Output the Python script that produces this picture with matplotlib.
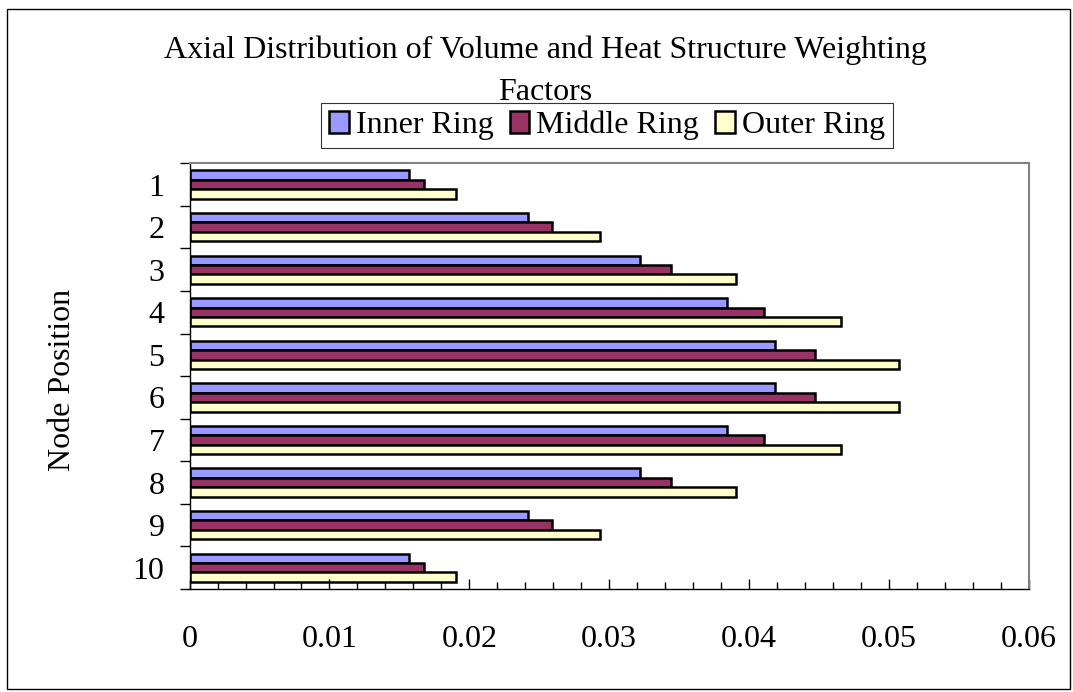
import matplotlib
matplotlib.use("Agg")
import matplotlib.pyplot as plt
from matplotlib.patches import Rectangle
from matplotlib.ticker import MultipleLocator, FixedLocator, NullFormatter, FixedFormatter
import numpy as np

# Weighting factors per axial node
nodes = ["1", "2", "3", "4", "5", "6", "7", "8", "9", "10"]
inner_ring = [0.01566, 0.02423, 0.03221, 0.03842, 0.04185, 0.04185, 0.03842, 0.03221, 0.02423, 0.01566]
middle_ring = [0.01679, 0.02589, 0.03446, 0.04111, 0.04469, 0.04469, 0.04111, 0.03446, 0.02589, 0.01679]
outer_ring = [0.01904, 0.02932, 0.03906, 0.04660, 0.05071, 0.05071, 0.04660, 0.03906, 0.02932, 0.01904]
series_names = ["Inner Ring", "Middle Ring", "Outer Ring"]
series_colors = ["#9999FF", "#993366", "#FFFFCC"]
x_labels = ["0", "0.01", "0.02", "0.03", "0.04", "0.05", "0.06"]

plt.rcParams["font.family"] = ["Liberation Serif", "DejaVu Serif"]
FS = 23

W, H = 1073, 692
fig = plt.figure(figsize=(W / 100, H / 100), dpi=100)

# outer chart border
fig.patches.append(Rectangle((7 / W, 1 - 689 / H), (1070 - 7) / W, (689 - 9) / H,
                             transform=fig.transFigure, fill=False,
                             edgecolor="black", linewidth=1.0))

left, right, top, bottom = 189.6, 1028.6, 163.3, 589.0
ax = fig.add_axes([left / W, 1 - bottom / H, (right - left) / W, (bottom - top) / H])

n = len(nodes)
y = np.arange(n)
bar_h = 1 / 4.5
for k, (vals, name, col) in enumerate(zip([inner_ring, middle_ring, outer_ring], series_names, series_colors)):
    ax.barh(y + (k - 1) * bar_h, vals, height=bar_h, color=col, edgecolor="black",
            linewidth=1.8, label=name)

ax.set_xlim(0, 0.06)
ax.set_ylim(n - 0.5, -0.5)

# x axis: inward ticks, minor every 0.002
ax.set_xticks(np.arange(len(x_labels)) * 0.01)
ax.set_xticklabels(x_labels)
ax.xaxis.set_minor_locator(MultipleLocator(0.002))
ax.tick_params(axis="x", which="major", direction="in", length=7.5, width=1.0,
               labelsize=FS, pad=26)
ax.tick_params(axis="x", which="minor", direction="in", length=5, width=1.0)

# y axis: ticks at category boundaries, labels at centers
ax.yaxis.set_major_locator(FixedLocator(np.arange(n + 1) - 0.5))
ax.yaxis.set_major_formatter(NullFormatter())
ax.yaxis.set_minor_locator(FixedLocator(y))
ax.yaxis.set_minor_formatter(FixedFormatter(nodes))
ax.tick_params(axis="y", which="major", direction="out", length=7.5, width=1.0)
ax.tick_params(axis="y", which="minor", length=0, labelsize=FS, pad=18)

for s in ["top", "right"]:
    ax.spines[s].set_color("#808080")
    ax.spines[s].set_linewidth(1.5)
for s in ["left", "bottom"]:
    ax.spines[s].set_color("black")
    ax.spines[s].set_linewidth(1.0)

fig.text(63 / W, 1 - 379.5 / H, "Node Position", rotation=90, ha="center", va="center",
         fontsize=FS)

fig.text(545 / W, 1 - 71.3 / H,
         "Axial Distribution of Volume and Heat Structure Weighting\nFactors",
         ha="center", va="center", fontsize=FS, linespacing=1.56)

leg = ax.legend(loc="center", bbox_to_anchor=(607 / W, 1 - 125.4 / H),
                bbox_transform=fig.transFigure, ncol=3, fontsize=FS,
                frameon=True, fancybox=False, handlelength=0.62, handleheight=0.72,
                handletextpad=0.22, columnspacing=0.5, borderpad=0.25,
                borderaxespad=0)
leg.get_frame().set_edgecolor("black")
leg.get_frame().set_linewidth(0.8)
for p in leg.get_patches():
    p.set_linewidth(1.8)

fig.savefig("out.png", dpi=100)
